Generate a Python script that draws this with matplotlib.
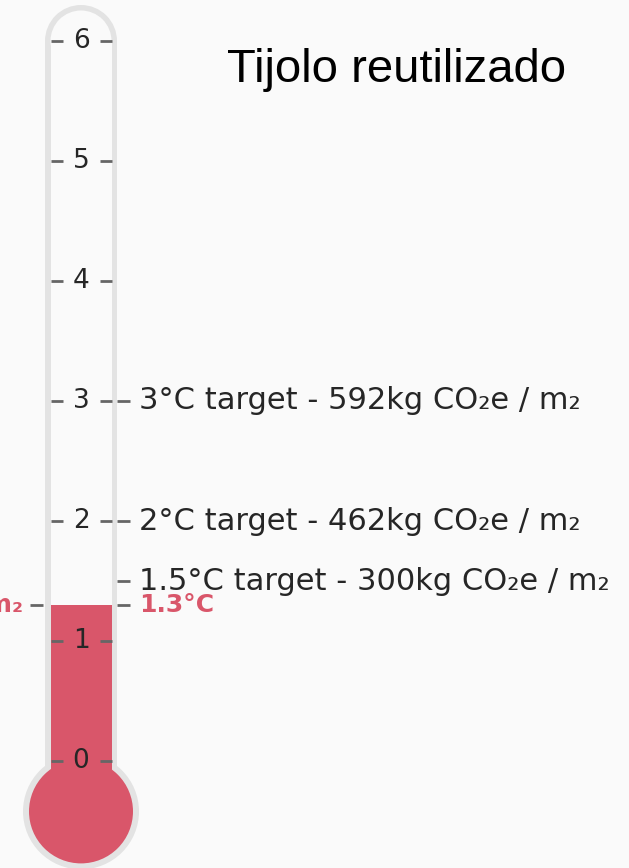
import matplotlib
matplotlib.use("Agg")
import matplotlib.pyplot as plt
from matplotlib.patches import Circle, Rectangle

# data
title = "Tijolo reutilizado"
tick_values = [0, 1, 2, 3, 4, 5, 6]
current_value = 1.3
current_label = "1.3°C"
current_left_label = "270kg CO₂e / m₂"
target_values = [3, 2, 1.5]
target_labels = [
    "3°C target - 592kg CO₂e / m₂",
    "2°C target - 462kg CO₂e / m₂",
    "1.5°C target - 300kg CO₂e / m₂",
]

BG = "#fafafa"
RED = "#d9566a"
BORDER = "#e3e3e3"
TICK = "#666666"
TEXT = "#262626"
FONT = ["DejaVu Sans"]

PX = 1 / 120.0          # one pixel in value units
cx = 81 * PX            # tube centre
outer_r = 36 * PX
inner_r = 30.5 * PX
bulb_y = -0.42
bulb_outer = 58 * PX
bulb_inner = 52 * PX

fig = plt.figure(figsize=(6.29, 8.68), dpi=100)
fig.patch.set_facecolor(BG)
ax = fig.add_axes([0, 0, 1, 1])
ax.set_facecolor(BG)
ax.set_xlim(0, 629 * PX)
ax.set_ylim(-107 * PX, 761 * PX)
ax.axis("off")

top = max(tick_values)

# outer glass
ax.add_patch(Rectangle((cx - outer_r, bulb_y), 2 * outer_r, top - bulb_y,
                       fc=BORDER, ec="none", zorder=1))
ax.add_patch(Circle((cx, top), outer_r, fc=BORDER, ec="none", zorder=1))
ax.add_patch(Circle((cx, bulb_y), bulb_outer, fc=BORDER, ec="none", zorder=1))

# inner glass
ax.add_patch(Rectangle((cx - inner_r, bulb_y), 2 * inner_r, top - bulb_y,
                       fc=BG, ec="none", zorder=2))
ax.add_patch(Circle((cx, top), inner_r, fc=BG, ec="none", zorder=2))

# mercury
ax.add_patch(Circle((cx, bulb_y), bulb_inner, fc=RED, ec="none", zorder=3))
ax.add_patch(Rectangle((cx - inner_r, bulb_y), 2 * inner_r, current_value - bulb_y,
                       fc=RED, ec="none", zorder=3))

# scale ticks inside the tube
for v in tick_values:
    ax.plot([cx - inner_r, cx - inner_r + 12 * PX], [v, v], color=TICK, lw=2,
            solid_capstyle="butt", zorder=4)
    ax.plot([cx + inner_r - 12 * PX, cx + inner_r], [v, v], color=TICK, lw=2,
            solid_capstyle="butt", zorder=4)
    ax.text(cx, v, str(v), ha="center", va="center", fontsize=19,
            color=TEXT, family=FONT, zorder=5)

# target markers on the right
for v, lab in zip(target_values, target_labels):
    ax.plot([cx + outer_r, cx + outer_r + 13 * PX], [v, v], color=TICK, lw=2,
            solid_capstyle="butt", zorder=4)
    ax.text(cx + outer_r + 22 * PX, v, lab, ha="left", va="center",
            fontsize=22, color=TEXT, family=FONT, zorder=5)

# current value markers
ax.plot([cx + outer_r, cx + outer_r + 13 * PX], [current_value] * 2, color=TICK,
        lw=2, solid_capstyle="butt", zorder=4)
ax.text(cx + outer_r + 22 * PX, current_value, current_label, ha="left",
        va="center", fontsize=18, fontweight="bold", color=RED, family=FONT,
        zorder=5)
ax.plot([cx - outer_r - 15 * PX, cx - outer_r - 2 * PX], [current_value] * 2,
        color=TICK, lw=2, solid_capstyle="butt", zorder=4)
ax.text(cx - outer_r - 22 * PX, current_value, current_left_label, ha="right",
        va="center", fontsize=18, fontweight="bold", color=RED, family=FONT,
        zorder=5)

ax.text(227 * PX, (761 - 82) * PX, title, ha="left", va="baseline",
        fontsize=34, color="black", family="Liberation Sans", zorder=5)

fig.savefig("out.png", dpi=100, facecolor=BG)
